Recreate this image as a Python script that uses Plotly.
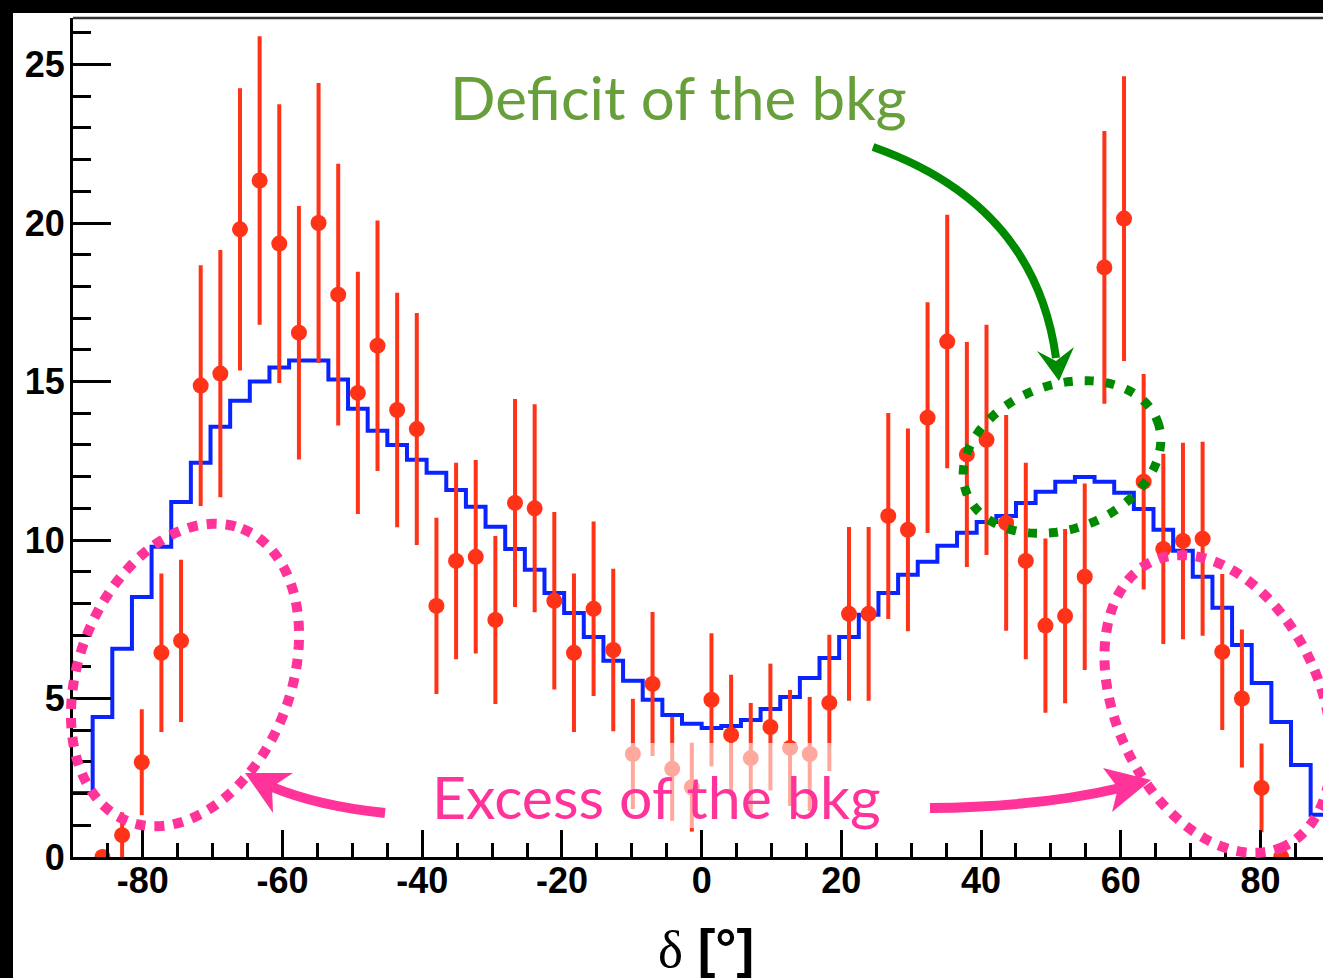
import numpy as np
import plotly.graph_objects as go

# ---------------- data ----------------
bin_lo, bin_hi, n_bins = -90.0, 90.0, 64

# background expectation (blue histogram), one value per bin
bkg_values = [2.02, 4.42, 6.57, 8.20, 9.79, 11.20, 12.44, 13.57, 14.39, 15.00,
              15.44, 15.66, 15.66, 15.06, 14.14, 13.45, 13.00, 12.53, 12.12, 11.58,
              11.05, 10.42, 9.72, 9.06, 8.33, 7.70, 6.94, 6.19, 5.56, 4.96,
              4.48, 4.20, 4.07, 4.13, 4.32, 4.67, 5.05, 5.65, 6.28, 6.94,
              7.64, 8.33, 8.90, 9.31, 9.82, 10.23, 10.57, 10.76, 11.17, 11.52,
              11.84, 11.99, 11.84, 11.49, 10.98, 10.32, 9.66, 8.84, 7.86, 6.69,
              5.49, 4.26, 2.90, 1.33]

# data points (red), bins 1..61
data_bins = list(range(1, 62))
data_values = [0.0, 0.69, 2.99, 6.44, 6.82, 14.87, 15.25, 19.80, 21.34, 19.35,
               16.54, 20.00, 17.74, 14.64, 16.13, 14.10, 13.50, 7.92, 9.34, 9.47,
               7.48, 11.17, 11.00, 8.08, 6.44, 7.83, 6.53, 3.25, 5.46, 2.78,
               2.20, 4.96, 3.85, 3.12, 4.10, 3.44, 3.25, 4.86, 7.67, 7.67,
               10.76, 10.32, 13.86, 16.26, 12.70, 13.16, 10.54, 9.34, 7.30, 7.60,
               8.84, 18.60, 20.14, 11.84, 9.72, 9.97, 10.04, 6.47, 5.00, 2.18,
               0.0]
data_errors = [0.0, 0.72, 1.67, 2.50, 2.56, 3.80, 3.90, 4.45, 4.55, 4.40,
               4.00, 4.42, 4.13, 3.82, 3.95, 3.70, 3.66, 2.78, 3.10, 3.05,
               2.65, 3.28, 3.28, 2.80, 2.50, 2.75, 2.56, 1.74, 2.27, 1.64,
               1.40, 2.10, 1.90, 1.74, 2.00, 1.83, 1.80, 2.15, 2.74, 2.74,
               3.25, 3.20, 3.64, 4.00, 3.55, 3.63, 3.40, 3.10, 2.75, 2.75,
               2.94, 4.30, 4.49, 3.40, 3.00, 3.10, 3.06, 2.46, 2.18, 1.40,
               0.0]

x_tick_vals = [-80, -60, -40, -20, 0, 20, 40, 60, 80]
x_tick_text = ["-80", "-60", "-40", "-20", "0", "20", "40", "60", "80"]
y_tick_vals = [0, 5, 10, 15, 20, 25]
y_tick_text = ["0", "5", "10", "15", "20", "25"]

# ---------------- geometry helpers ----------------
W, H = 1323, 978
ML, MT, MB = 73, 18, 121
PW, PH = W - ML, H - MT - MB


def px2paper(px, py):
    return (px - ML) / PW, (H - MB - py) / PH


def poly_path(pts, close=True):
    s = ""
    for i, (px, py) in enumerate(pts):
        x, y = px2paper(px, py)
        s += ("M" if i == 0 else "L") + f"{x:.5f},{y:.5f} "
    return s + ("Z" if close else "")


def quad_path(p0, p1, p2):
    a = px2paper(*p0)
    b = px2paper(*p1)
    c = px2paper(*p2)
    return f"M{a[0]:.5f},{a[1]:.5f} Q{b[0]:.5f},{b[1]:.5f} {c[0]:.5f},{c[1]:.5f}"


def ellipse_pts(cx, cy, a, b, ang_deg, n=180):
    t = np.linspace(0, 2 * np.pi, n, endpoint=False)
    ang = np.radians(ang_deg)
    xs = cx + a * np.cos(t) * np.cos(ang) - b * np.sin(t) * np.sin(ang)
    ys = cy + a * np.cos(t) * np.sin(ang) + b * np.sin(t) * np.cos(ang)
    return list(zip(xs, ys))


# ---------------- traces ----------------
bw = (bin_hi - bin_lo) / n_bins
edges = [bin_lo + bw * i for i in range(n_bins + 1)]
centers = [bin_lo + bw * (i + 0.5) for i in data_bins]

RED = "#ff3318"
BLUE = "#0a24ff"
PINK = "#ff3399"
DGREEN = "#008a00"

fig = go.Figure()
fig.add_trace(go.Scatter(
    x=edges, y=bkg_values + [bkg_values[-1]], mode="lines",
    line=dict(shape="hv", color=BLUE, width=4), hoverinfo="skip"))
fig.add_trace(go.Scatter(
    x=centers, y=data_values, mode="markers",
    marker=dict(color=RED, size=16, line=dict(width=0)),
    error_y=dict(type="data", array=data_errors, width=0, thickness=4, color=RED)))

# ---------------- shapes ----------------
shapes = []
# black border (top & left)
shapes.append(dict(type="rect", xref="paper", yref="paper",
                   x0=px2paper(0, 0)[0], x1=px2paper(13, 0)[0],
                   y0=px2paper(0, H)[1], y1=px2paper(0, 0)[1],
                   fillcolor="black", line=dict(width=0), layer="above"))
shapes.append(dict(type="rect", xref="paper", yref="paper",
                   x0=px2paper(0, 0)[0], x1=px2paper(W, 0)[0],
                   y0=px2paper(0, 13)[1], y1=px2paper(0, 0)[1],
                   fillcolor="black", line=dict(width=0), layer="above"))
# top frame line
shapes.append(dict(type="line", xref="paper", yref="paper", x0=0, x1=1, y0=1, y1=1,
                   line=dict(color="#333333", width=2.5), layer="above"))
# translucent box behind "Excess" text
bx0, by0 = px2paper(425, 828)
bx1, by1 = px2paper(885, 743)
shapes.append(dict(type="rect", xref="paper", yref="paper", x0=bx0, x1=bx1, y0=by0, y1=by1,
                   fillcolor="rgba(255,255,255,0.58)", line=dict(width=0), layer="above"))
# dotted ellipses
shapes.append(dict(type="path", xref="paper", yref="paper",
                   path=poly_path(ellipse_pts(185, 675, 157, 106, -68.7)),
                   line=dict(color=PINK, width=10, dash="10px,9px"), layer="above"))
shapes.append(dict(type="path", xref="paper", yref="paper",
                   path=poly_path(ellipse_pts(1218, 704, 157, 102, 65.3)),
                   line=dict(color=PINK, width=10, dash="10px,9px"), layer="above"))
shapes.append(dict(type="path", xref="paper", yref="paper",
                   path=poly_path(ellipse_pts(1062, 457, 102, 72, -20.5)),
                   line=dict(color=DGREEN, width=9, dash="9px,12px"), layer="above"))
# green curved arrow
shapes.append(dict(type="path", xref="paper", yref="paper",
                   path=quad_path((873, 147), (1035, 204), (1056, 358)),
                   line=dict(color=DGREEN, width=8), layer="above"))
shapes.append(dict(type="path", xref="paper", yref="paper",
                   path=poly_path([(1059, 381), (1037, 351), (1056, 361), (1074, 347)]),
                   fillcolor=DGREEN, line=dict(width=0), layer="above"))
# pink curved arrows
shapes.append(dict(type="path", xref="paper", yref="paper",
                   path=quad_path((385, 813), (318, 806), (272, 787)),
                   line=dict(color=PINK, width=10), layer="above"))
shapes.append(dict(type="path", xref="paper", yref="paper",
                   path=poly_path([(245, 773), (293, 773), (272, 787), (273, 813)]),
                   fillcolor=PINK, line=dict(width=0), layer="above"))
shapes.append(dict(type="path", xref="paper", yref="paper",
                   path=quad_path((930, 808), (1040, 807), (1120, 788)),
                   line=dict(color=PINK, width=10), layer="above"))
shapes.append(dict(type="path", xref="paper", yref="paper",
                   path=poly_path([(1151, 780), (1112, 812), (1118, 788), (1103, 768)]),
                   fillcolor=PINK, line=dict(width=0), layer="above"))

# ---------------- annotations ----------------
annotations = []
ax_, ay_ = px2paper(678, 97)
annotations.append(dict(xref="paper", yref="paper", x=ax_, y=ay_, xanchor="center", yanchor="middle",
                        text="Deficit of the bkg", showarrow=False,
                        font=dict(family="Lato", size=60, color="#67a03b")))
ax_, ay_ = px2paper(656, 796)
annotations.append(dict(xref="paper", yref="paper", x=ax_, y=ay_, xanchor="center", yanchor="middle",
                        text="Excess of the bkg", showarrow=False,
                        font=dict(family="Lato", size=59, color=PINK)))
ax_, ay_ = px2paper(706, 948)
annotations.append(dict(xref="paper", yref="paper", x=ax_, y=ay_, xanchor="center", yanchor="middle",
                        text="<span style='font-family:Liberation Serif;font-weight:normal'>δ</span> <b>[°]</b>",
                        showarrow=False,
                        font=dict(family="Liberation Sans", size=53, color="black")))

tickfont = dict(family="Liberation Sans", size=36, color="black", weight="bold")

fig.update_layout(
    width=W, height=H,
    margin=dict(l=ML, r=0, t=MT, b=MB, pad=0),
    paper_bgcolor="white", plot_bgcolor="white",
    showlegend=False,
    shapes=shapes, annotations=annotations,
    xaxis=dict(range=[bin_lo, bin_lo + PW / 6.985], showline=True, linecolor="black", linewidth=3,
               ticks="inside", ticklen=27, tickwidth=2.5, tickcolor="black",
               tickvals=x_tick_vals, ticktext=x_tick_text, tickfont=tickfont,
               ticklabelstandoff=-10,
               minor=dict(dtick=5, tick0=0, ticks="inside", ticklen=14, tickwidth=2.5,
                          tickcolor="black", showgrid=False),
               showgrid=False, zeroline=False, automargin=False),
    yaxis=dict(range=[0, PH / 31.7], showline=True, linecolor="black", linewidth=3,
               ticks="inside", ticklen=38, tickwidth=2.5, tickcolor="black",
               tickvals=y_tick_vals, ticktext=y_tick_text, tickfont=tickfont,
               ticklabelstandoff=-2,
               minor=dict(dtick=1, tick0=0, ticks="inside", ticklen=18, tickwidth=2.5,
                          tickcolor="black", showgrid=False),
               showgrid=False, zeroline=False, automargin=False),
)

fig.write_html("out.html")
